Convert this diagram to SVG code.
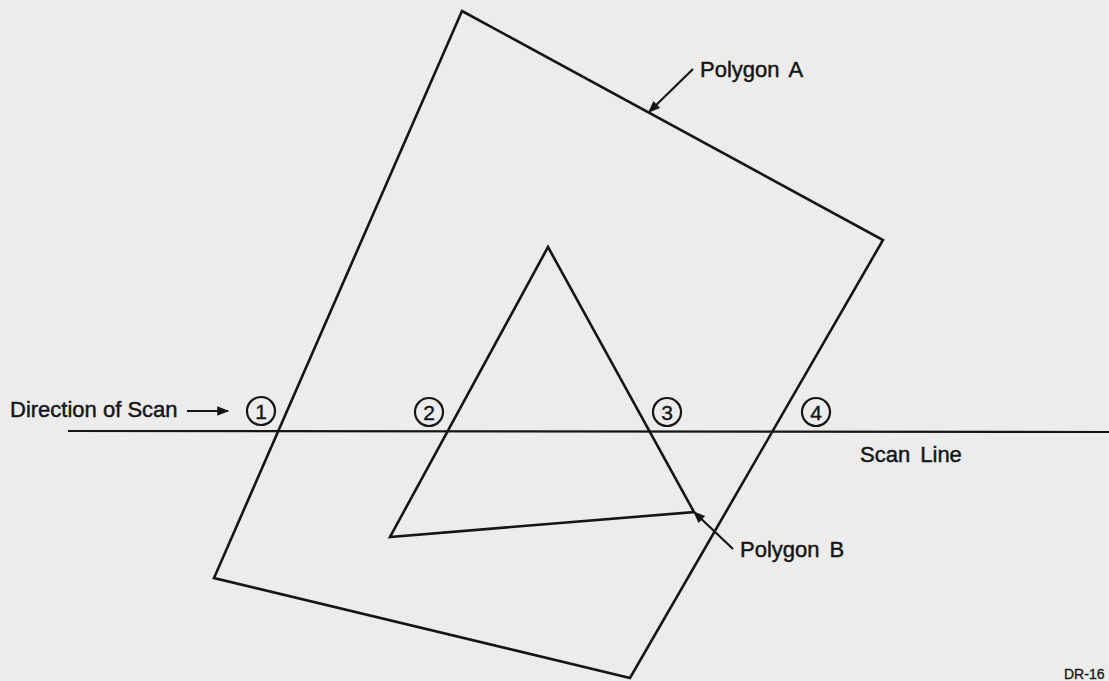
<svg xmlns="http://www.w3.org/2000/svg" width="1109" height="681" viewBox="0 0 1109 681">
<style>
.edge{fill:none;stroke:#151515;stroke-width:2.6;stroke-linejoin:miter}
.thin{fill:none;stroke:#151515;stroke-width:2.2}
.lbl{font-family:"Liberation Sans",Arial,sans-serif;font-size:22px;fill:#151515;stroke:#151515;stroke-width:0.45}
.num{font-family:"Liberation Sans",Arial,sans-serif;font-size:21px;fill:#151515;stroke:#151515;stroke-width:0.4;text-anchor:middle}
.ring{fill:none;stroke:#151515;stroke-width:2.2}
</style>
<defs>
<marker id="ahb" viewBox="0 0 10 10" refX="9" refY="5" markerWidth="18" markerHeight="12" markerUnits="userSpaceOnUse" orient="auto">
<path d="M0,1 L10,5 L0,9 Z" fill="#151515"/>
</marker>
</defs>
<rect width="1109" height="681" fill="#ececec"/>
<g id="polygonA">
<polygon class="edge" points="462,11 883,240 630,678 214,578"/>
</g>
<g id="polygonB">
<polygon class="edge" points="548,247 694,512 390,537"/>
</g>
<g id="scanLine">
<line class="thin" x1="68" y1="431" x2="1109" y2="432"/>
</g>
<g id="connectors">
<line class="thin" x1="187" y1="411" x2="228" y2="411" marker-end="url(#ahb)"/>
<line class="thin" x1="693" y1="69" x2="649" y2="112" marker-end="url(#ahb)"/>
<line class="thin" x1="733" y1="549" x2="694" y2="512" marker-end="url(#ahb)"/>
</g>
<g id="labels">
<text class="lbl" x="10" y="417">Direction of Scan</text>
<text class="lbl" x="700" y="77" word-spacing="4">Polygon A</text>
<text class="lbl" x="740" y="557" word-spacing="4">Polygon B</text>
<text class="lbl" x="860" y="462" word-spacing="4">Scan Line</text>
<text class="lbl" x="1064" y="679" style="font-size:14px;stroke-width:0.3">DR-16</text>
</g>
<g id="mark1"><circle class="ring" cx="261" cy="411" r="14"/><text class="num" x="261" y="418.5">1</text></g>
<g id="mark2"><circle class="ring" cx="429" cy="412" r="14"/><text class="num" x="429" y="419.5">2</text></g>
<g id="mark3"><circle class="ring" cx="667" cy="412" r="14"/><text class="num" x="667" y="419.5">3</text></g>
<g id="mark4"><circle class="ring" cx="816" cy="412" r="14"/><text class="num" x="816" y="419.5">4</text></g>
</svg>
